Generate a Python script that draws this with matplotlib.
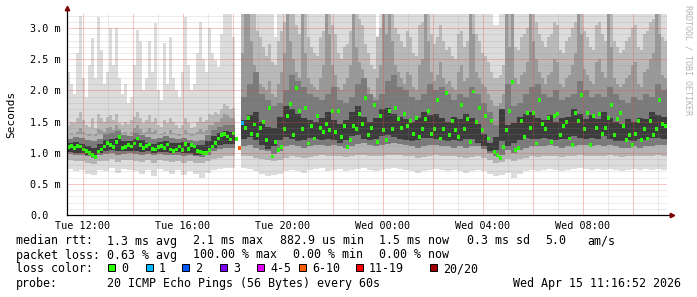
import numpy as np
import matplotlib
matplotlib.use("Agg")
import matplotlib.pyplot as plt
from matplotlib.patches import Rectangle

nan = float("nan")

# median rtt (ms), one value per 7.2 min step starting Tue 11:21
median_ms = [
    1.09, 1.11, 1.08, 1.11, 1.10, 1.05, 1.03, 1.00, 0.96, 0.93,
    1.02, 1.05, 1.10, 1.16, 1.12, 1.09, 1.17, 1.25, 1.07, 1.09,
    1.12, 1.10, 1.15, 1.23, 1.12, 1.08, 1.11, 1.13, 1.06, 1.05,
    1.09, 1.11, 1.07, 1.13, 1.05, 1.03, 1.05, 1.10, 1.04, 1.14,
    1.06, 1.12, 1.10, 1.03, 1.01, 0.99, 1.00, 1.04, 1.10, 1.16,
    1.23, 1.28, 1.30, 1.26, 1.21, 1.31, 1.22, 1.07, 1.48, 1.40,
    1.56, 1.30, 1.45, 1.28, 1.40, 1.49, 1.20, 1.72, 0.94, 1.17,
    1.04, 1.09, 1.38, 1.59, 1.78, 1.28, 2.04, 1.67, 1.38, 1.72,
    1.15, 1.43, 1.23, 1.59, 1.40, 1.33, 1.46, 1.36, 1.67, 1.33,
    1.67, 1.25, 1.43, 1.09, 1.20, 1.43, 1.38, 1.62, 1.46, 1.88,
    1.28, 1.40, 1.77, 1.17, 1.59, 1.36, 1.20, 1.67, 1.38, 1.72,
    1.54, 1.40, 1.62, 1.43, 1.51, 1.30, 1.56, 1.25, 1.38, 1.54,
    1.67, 1.30, 1.38, 1.85, 1.23, 1.38, 1.96, 1.28, 1.51, 1.36,
    1.25, 1.77, 1.38, 1.54, 1.17, 1.98, 1.49, 1.72, 1.36, 1.59,
    1.23, 1.51, 1.01, 0.96, 0.91, 1.09, 1.36, 1.67, 2.14, 1.04,
    1.07, 1.51, 1.25, 1.64, 1.40, 1.64, 1.15, 1.85, 1.46, 1.38,
    1.56, 1.17, 1.59, 1.62, 1.28, 1.43, 1.49, 1.23, 1.12, 1.64,
    1.51, 1.93, 1.38, 1.64, 1.12, 1.59, 1.40, 1.62, 1.30, 1.40,
    1.56, 1.77, 1.28, 1.54, 1.64, 1.43, 1.20, 1.28, 1.12, 1.30,
    1.51, 1.20, 1.38, 1.23, 1.51, 1.28, 1.38, 1.85, 1.46, 1.43,
]
# steps that had packet loss: index -> loss class
median_loss = {57: "6-10", 58: "1"}

# upper smoke (ms), same 7.2 min steps; 3.3 = off the top of the chart
smoke_p80 = [
    1.30, 1.32, 1.30, 1.34, 1.40, 1.33, 1.28, 1.27, 1.30, 1.26,
    1.38, 1.36, 1.33, 1.40, 1.42, 1.36, 1.44, 1.38, 1.32, 1.33,
    1.30, 1.34, 1.40, 1.45, 1.38, 1.32, 1.34, 1.40, 1.33, 1.36,
    1.30, 1.28, 1.34, 1.30, 1.36, 1.32, 1.28, 1.26, 1.30, 1.36,
    1.32, 1.26, 1.28, 1.33, 1.38, 1.34, 1.36, 1.44, 1.45, 1.50,
    1.50, 1.56, 1.62, 1.60, 1.55, 1.56, nan, nan, 2.60, 3.30,
    3.30, 2.80, 2.40, 2.20, 2.10, 2.05, 2.00, 2.15, 1.95, 1.90,
    2.10, 2.30, 2.60, 3.30, 2.80, 2.50, 2.30, 2.20, 3.30, 2.60,
    2.20, 2.10, 2.05, 2.00, 2.20, 2.40, 3.30, 2.90, 2.40, 2.25,
    2.05, 2.00, 2.10, 2.20, 2.40, 3.30, 2.70, 2.45, 2.35, 2.15,
    2.05, 1.95, 1.90, 2.20, 2.40, 3.30, 2.90, 3.30, 2.80, 2.40,
    2.30, 2.20, 2.10, 2.30, 2.25, 2.05, 2.00, 2.40, 2.50, 3.30,
    2.80, 2.30, 2.15, 2.25, 2.45, 2.20, 2.10, 2.15, 2.05, 2.00,
    2.30, 2.40, 2.15, 2.20, 3.30, 2.90, 2.30, 2.20, 2.10, 2.05,
    1.95, 1.85, 1.75, 1.75, 1.80, 1.95, 3.30, 2.70, 3.30, 2.20,
    2.10, 2.25, 2.30, 2.45, 3.30, 2.80, 2.50, 2.30, 2.20, 2.10,
    2.25, 2.30, 2.50, 2.45, 2.10, 2.05, 2.20, 2.25, 2.40, 2.60,
    3.30, 2.90, 2.35, 2.25, 2.15, 2.10, 2.45, 2.50, 2.30, 2.20,
    3.30, 2.70, 2.20, 2.10, 2.05, 2.10, 2.20, 2.25, 2.40, 2.45,
    2.10, 2.05, 2.30, 2.35, 2.50, 2.60, 3.30, 2.90, 2.25, 2.20,
]
smoke_p90 = [
    1.45, 1.50, 1.48, 1.55, 1.65, 1.52, 1.45, 1.42, 1.55, 1.40,
    1.62, 1.55, 1.50, 1.58, 1.60, 1.52, 1.62, 1.48, 1.45, 1.50,
    1.46, 1.52, 1.58, 1.65, 1.55, 1.48, 1.52, 1.60, 1.50, 1.55,
    1.44, 1.42, 1.52, 1.48, 1.56, 1.50, 1.44, 1.40, 1.45, 1.55,
    1.48, 1.40, 1.42, 1.50, 1.58, 1.50, 1.52, 1.62, 1.60, 1.65,
    1.62, 1.70, 1.78, 1.75, 1.70, 1.72, nan, nan, 3.30, 3.30,
    3.30, 3.30, 3.30, 2.95, 2.85, 2.70, 2.55, 2.75, 2.45, 2.40,
    2.80, 2.95, 3.10, 3.30, 3.30, 3.30, 3.05, 2.90, 3.30, 3.30,
    2.85, 2.70, 2.60, 2.55, 2.85, 2.95, 3.30, 3.30, 3.05, 2.90,
    2.60, 2.50, 2.70, 2.75, 2.95, 3.30, 3.30, 3.15, 3.05, 2.75,
    2.60, 2.40, 2.35, 2.85, 3.00, 3.30, 3.30, 3.30, 3.30, 3.00,
    2.90, 2.80, 2.70, 2.95, 2.85, 2.60, 2.55, 3.05, 3.10, 3.30,
    3.30, 2.90, 2.75, 2.85, 3.05, 2.80, 2.65, 2.70, 2.55, 2.50,
    2.90, 2.95, 2.70, 2.80, 3.30, 3.30, 2.90, 2.80, 2.60, 2.55,
    2.45, 2.30, 2.20, 2.20, 2.25, 2.40, 3.30, 3.30, 3.30, 2.70,
    2.65, 2.85, 2.90, 3.00, 3.30, 3.30, 3.10, 2.90, 2.80, 2.70,
    2.85, 2.90, 3.10, 3.05, 2.65, 2.60, 2.80, 2.85, 3.00, 3.10,
    3.30, 3.30, 2.95, 2.85, 2.70, 2.65, 3.05, 3.10, 2.90, 2.80,
    3.30, 3.30, 2.80, 2.70, 2.60, 2.65, 2.80, 2.85, 3.00, 3.05,
    2.70, 2.65, 2.90, 2.95, 3.10, 3.15, 3.30, 3.30, 2.85, 2.80,
]
smoke_hi = [
    2.30, 2.10, 1.95, 2.60, 3.20, 2.20, 1.90, 2.40, 2.84, 2.20,
    3.18, 2.65, 2.10, 2.30, 3.00, 2.40, 3.00, 2.20, 1.95, 2.10,
    1.80, 1.90, 2.40, 2.97, 2.80, 2.00, 2.20, 2.80, 2.30, 3.08,
    2.00, 1.85, 2.76, 2.10, 2.86, 2.20, 2.00, 1.90, 2.30, 3.18,
    2.40, 2.00, 2.10, 2.60, 3.10, 2.50, 2.30, 3.00, 2.60, 2.49,
    2.38, 2.90, 3.30, 3.30, 3.30, 2.86, nan, nan, 3.30, 3.30,
    3.30, 3.30, 3.30, 3.30, 3.30, 3.30, 3.30, 3.30, 3.30, 2.86,
    3.30, 3.30, 3.30, 3.30, 3.30, 3.30, 3.30, 3.30, 3.30, 3.30,
    3.30, 3.30, 3.30, 3.30, 3.30, 3.30, 3.30, 3.30, 3.30, 3.30,
    3.30, 3.30, 3.30, 3.30, 3.30, 3.30, 3.30, 3.30, 3.30, 3.30,
    3.30, 3.30, 3.30, 2.88, 3.30, 3.30, 3.30, 3.30, 3.30, 3.30,
    3.30, 3.30, 3.30, 3.30, 3.30, 3.30, 3.30, 3.30, 3.30, 3.30,
    3.30, 3.30, 3.30, 3.30, 3.30, 3.30, 3.30, 3.30, 3.30, 3.30,
    3.30, 3.30, 3.30, 3.30, 3.30, 3.30, 3.30, 3.30, 3.30, 3.30,
    3.30, 3.30, 3.05, 3.05, 3.30, 3.30, 3.30, 3.30, 3.30, 3.30,
    3.30, 3.30, 3.30, 3.30, 3.30, 3.30, 3.30, 3.30, 3.30, 3.30,
    3.30, 3.30, 3.30, 3.30, 3.30, 3.30, 3.30, 3.30, 3.30, 3.30,
    3.30, 3.30, 3.30, 3.30, 3.30, 3.30, 3.30, 3.30, 3.30, 3.30,
    3.30, 3.30, 3.30, 3.30, 3.30, 3.30, 3.30, 3.30, 3.30, 3.30,
    3.30, 3.30, 3.30, 3.30, 3.30, 3.30, 3.30, 3.30, 3.30, 3.30,
]

# lower / inner smoke (ms), one value per 14.4 min step; nan = no data
smoke_lo = [
    0.74, 0.70, 0.72, 0.66, 0.64, 0.72, 0.70, 0.76, 0.68, 0.74,
    0.72, 0.70, 0.66, 0.73, 0.62, 0.74, 0.70, 0.66, 0.72, 0.64,
    0.70, 0.66, 0.60, 0.68, 0.72, 0.74, 0.76, 0.75, nan, 0.76,
    0.74, 0.70, 0.66, 0.62, 0.64, 0.66, 0.70, 0.72, 0.70, 0.68,
    0.72, 0.74, 0.76, 0.70, 0.72, 0.74, 0.70, 0.72, 0.74, 0.76,
    0.72, 0.70, 0.72, 0.74, 0.76, 0.74, 0.72, 0.70, 0.68, 0.70,
    0.72, 0.74, 0.72, 0.70, 0.72, 0.70, 0.68, 0.70, 0.72, 0.70,
    0.66, 0.62, 0.64, 0.68, 0.60, 0.66, 0.70, 0.72, 0.70, 0.72,
    0.74, 0.72, 0.70, 0.72, 0.74, 0.76, 0.74, 0.72, 0.74, 0.72,
    0.74, 0.72, 0.70, 0.72, 0.74, 0.72, 0.74, 0.72, 0.74, 0.72,
]
smoke_p10 = [
    0.88, 0.86, 0.87, 0.84, 0.82, 0.86, 0.87, 0.90, 0.85, 0.88,
    0.88, 0.87, 0.85, 0.88, 0.84, 0.88, 0.86, 0.85, 0.87, 0.84,
    0.86, 0.84, 0.83, 0.86, 0.90, 0.92, 0.94, 0.94, nan, 0.95,
    0.94, 0.92, 0.90, 0.88, 0.86, 0.88, 0.92, 0.94, 0.93, 0.92,
    0.93, 0.95, 0.96, 0.94, 0.95, 0.95, 0.93, 0.94, 0.96, 0.97,
    0.95, 0.94, 0.95, 0.96, 0.97, 0.96, 0.95, 0.94, 0.92, 0.93,
    0.95, 0.96, 0.95, 0.94, 0.94, 0.93, 0.92, 0.93, 0.94, 0.92,
    0.88, 0.84, 0.85, 0.90, 0.86, 0.90, 0.92, 0.94, 0.93, 0.94,
    0.95, 0.94, 0.93, 0.94, 0.95, 0.96, 0.95, 0.94, 0.95, 0.94,
    0.96, 0.95, 0.93, 0.94, 0.95, 0.94, 0.95, 0.94, 0.96, 0.95,
]
smoke_p25 = [
    0.98, 0.97, 0.96, 0.94, 0.92, 0.96, 0.98, 1.00, 0.97, 0.98,
    0.99, 0.98, 0.97, 0.98, 0.96, 0.98, 0.97, 0.96, 0.97, 0.95,
    0.96, 0.94, 0.93, 0.97, 1.02, 1.06, 1.08, 1.08, nan, 1.10,
    1.12, 1.08, 1.05, 1.02, 0.98, 1.02, 1.10, 1.12, 1.10, 1.08,
    1.10, 1.12, 1.12, 1.10, 1.12, 1.10, 1.08, 1.10, 1.14, 1.15,
    1.12, 1.10, 1.12, 1.14, 1.16, 1.14, 1.12, 1.10, 1.08, 1.10,
    1.12, 1.12, 1.10, 1.10, 1.08, 1.10, 1.08, 1.10, 1.10, 1.06,
    1.00, 0.94, 0.96, 1.05, 1.00, 1.05, 1.08, 1.10, 1.10, 1.10,
    1.12, 1.10, 1.08, 1.10, 1.10, 1.12, 1.12, 1.10, 1.12, 1.10,
    1.12, 1.10, 1.08, 1.08, 1.10, 1.08, 1.10, 1.10, 1.12, 1.12,
]
smoke_p40 = [
    1.01, 1.00, 0.99, 0.97, 0.95, 0.99, 1.02, 1.04, 1.02, 1.02,
    1.03, 1.03, 1.01, 1.02, 1.00, 1.01, 1.01, 1.00, 1.01, 0.99,
    0.99, 0.97, 0.96, 1.01, 1.07, 1.12, 1.14, 1.14, nan, 1.22,
    1.25, 1.20, 1.12, 1.06, 1.10, 1.20, 1.25, 1.22, 1.18, 1.20,
    1.24, 1.22, 1.20, 1.22, 1.20, 1.16, 1.20, 1.26, 1.28, 1.22,
    1.20, 1.22, 1.26, 1.28, 1.25, 1.22, 1.20, 1.18, 1.20, 1.24,
    1.24, 1.22, 1.20, 1.18, 1.20, 1.18, 1.22, 1.22, 1.16, 1.10,
    1.02, 1.04, 1.18, 1.10, 1.15, 1.20, 1.24, 1.22, 1.22, 1.24,
    1.22, 1.20, 1.22, 1.22, 1.26, 1.24, 1.22, 1.24, 1.22, 1.26,
    1.22, 1.18, 1.18, 1.20, 1.18, 1.22, 1.20, 1.24, 1.24, 1.22,
]
smoke_p60 = [
    1.16, 1.17, 1.14, 1.10, 1.08, 1.14, 1.20, 1.22, 1.24, 1.18,
    1.18, 1.22, 1.20, 1.16, 1.14, 1.17, 1.18, 1.15, 1.16, 1.17,
    1.15, 1.12, 1.12, 1.18, 1.26, 1.32, 1.35, 1.34, nan, 1.52,
    1.60, 1.65, 1.50, 1.42, 1.40, 1.58, 1.75, 1.70, 1.62, 1.55,
    1.52, 1.50, 1.56, 1.65, 1.52, 1.46, 1.52, 1.66, 1.75, 1.58,
    1.50, 1.56, 1.70, 1.72, 1.62, 1.58, 1.54, 1.50, 1.56, 1.66,
    1.60, 1.62, 1.56, 1.50, 1.58, 1.54, 1.62, 1.56, 1.46, 1.30,
    1.15, 1.25, 1.70, 1.45, 1.48, 1.58, 1.62, 1.66, 1.56, 1.52,
    1.60, 1.50, 1.55, 1.58, 1.70, 1.62, 1.54, 1.60, 1.54, 1.65,
    1.56, 1.50, 1.46, 1.54, 1.50, 1.56, 1.54, 1.66, 1.60, 1.58,
]
smoke_p75 = [
    1.22, 1.25, 1.24, 1.20, 1.18, 1.22, 1.30, 1.32, 1.35, 1.28,
    1.26, 1.32, 1.28, 1.25, 1.22, 1.24, 1.26, 1.23, 1.22, 1.24,
    1.20, 1.18, 1.20, 1.28, 1.36, 1.42, 1.45, 1.44, nan, 1.90,
    2.10, 2.30, 1.95, 1.85, 1.75, 1.80, 2.00, 2.25, 2.15, 2.05,
    1.95, 1.90, 1.85, 1.95, 2.05, 1.85, 1.80, 1.90, 2.10, 2.20,
    1.95, 1.85, 1.95, 2.15, 2.25, 2.05, 2.00, 1.90, 1.85, 1.95,
    2.10, 2.00, 2.05, 1.95, 1.85, 1.95, 1.90, 2.05, 1.95, 1.80,
    1.65, 1.45, 1.60, 2.10, 1.75, 1.80, 1.95, 2.05, 2.10, 1.95,
    1.90, 2.00, 1.85, 1.90, 1.95, 2.15, 2.00, 1.90, 1.95, 1.90,
    2.05, 1.95, 1.85, 1.80, 1.90, 1.85, 1.95, 1.90, 2.10, 2.00,
]

x_ticks = [12, 16, 20, 24, 28, 32]
x_tick_labels = ["Tue 12:00", "Tue 16:00", "Tue 20:00",
                 "Wed 00:00", "Wed 04:00", "Wed 08:00"]
y_ticks = [0.0, 0.5, 1.0, 1.5, 2.0, 2.5, 3.0]
y_tick_labels = ["0.0", "0.5 m", "1.0 m", "1.5 m", "2.0 m", "2.5 m", "3.0 m"]

loss_names = ["0", "1", "2", "3", "4-5", "6-10", "11-19", "20/20"]
loss_colors = ["#26ff00", "#00b8ff", "#0059ff", "#7e00ff",
               "#e000ff", "#ff5e00", "#ff0000", "#a10000"]

legend_rows = [
    [(16, "median rtt:"), (107, "1.3 ms avg"), (193, "2.1 ms max"),
     (280, "882.9 us min"), (379, "1.5 ms now"), (467, "0.3 ms sd"),
     (545, "5.0"), (587, "am/s")],
    [(16, "packet loss:"), (107, "0.63 % avg"), (193, "100.00 % max"),
     (293, "0.00 % min"), (379, "0.00 % now")],
    [(16, "loss color:")],
    [(16, "probe:"), (107, "20 ICMP Echo Pings (56 Bytes) every 60s")],
]
stamp = "Wed Apr 15 11:16:52 2026"

W, H = 697, 297
t0 = 11.36          # hours since Tue 00:00 at the left edge
span = 24.0
split = 1.3         # upper smoke is stored at finer resolution
mono = "DejaVu Sans Mono"

fig = plt.figure(figsize=(W / 100, H / 100), dpi=100, facecolor="white")
ax = fig.add_axes([67 / W, (H - 215) / H, 600 / W, 201 / H])
ax.set_facecolor("white")


def smoke(t, w, a, b, color):
    a = np.asarray(a, float)
    b = np.asarray(b, float)
    ok = ~(np.isnan(a) | np.isnan(b))
    ax.bar(t[ok], (b - a)[ok], bottom=a[ok], width=w, color=color,
           linewidth=0, antialiased=False, zorder=1)


n_c = len(smoke_lo)
dc = span / n_c
t_c = t0 + dc * (np.arange(n_c) + 0.5)
n_f = len(smoke_hi)
df = span / n_f
t_f = t0 + df * (np.arange(n_f) + 0.5)
split_c = np.where(np.isnan(np.array(smoke_lo)), nan, split)
split_f = np.where(np.isnan(np.array(smoke_hi)), nan, split)

smoke(t_c, dc, smoke_lo, split_c, "#dcdcdc")
smoke(t_f, df, split_f, smoke_hi, "#dcdcdc")
smoke(t_c, dc, smoke_p10, split_c, "#b4b4b4")
smoke(t_f, df, split_f, smoke_p90, "#b9b9b9")
smoke(t_f, df, split_f, smoke_p80, "#999999")
smoke(t_c, dc, smoke_p25, smoke_p75, "#7a7a7a")
smoke(t_c, dc, smoke_p40, smoke_p60, "#3c3c3c")

# median markers coloured by loss
n_m = len(median_ms)
dm = span / n_m
t_m = t0 + dm * (np.arange(n_m) + 0.5)
med = np.array(median_ms)
cols = [loss_colors[loss_names.index(median_loss.get(i, "0"))] for i in range(n_m)]
ax.scatter(t_m, med, marker="s", s=7, c=cols, linewidths=0, zorder=3)

# grid on top, rrdtool style
for v in np.arange(0.1, 3.25, 0.1):
    if abs(v * 2 - round(v * 2)) > 1e-6:
        ax.axhline(v, color="#909090", alpha=0.35, lw=0.72, ls=(0, (1, 1)), zorder=4)
for h in range(12, 36):
    if h % 2:
        ax.axvline(h, color="#909090", alpha=0.35, lw=0.72, ls=(0, (1, 1)), zorder=4)
for v in y_ticks[1:]:
    ax.axhline(v, color="#e04848", alpha=0.6, lw=0.72, ls=(0, (1, 1)), zorder=4)
for h in range(12, 36, 2):
    ax.axvline(h, color="#e04848", alpha=0.6, lw=0.72, ls=(0, (1, 1)), zorder=4)

ax.set_xlim(t0, t0 + span)
ax.set_ylim(0, 3.226)
for s in ax.spines.values():
    s.set_visible(False)

ax.set_xticks(x_ticks)
ax.set_xticklabels(x_tick_labels, fontsize=7.3, family=mono)
ax.set_yticks(y_ticks)
ax.set_yticklabels(y_tick_labels, fontsize=7.3, family=mono)
ax.tick_params(axis="both", length=0)
ax.tick_params(axis="x", pad=4)
ax.tick_params(axis="y", pad=26.6)
for lab in ax.get_yticklabels():
    lab.set_horizontalalignment("left")

# axes with dark red arrows
ax.plot([0, 0], [0, 1.025], transform=ax.transAxes, color="black", lw=0.9,
        clip_on=False, zorder=5)
ax.plot([0, 1.008], [0, 0], transform=ax.transAxes, color="black", lw=0.9,
        clip_on=False, zorder=5)
ax.plot([0], [1.028], transform=ax.transAxes, marker="^", ms=3.2,
        color="#7f0000", clip_on=False, zorder=6)
ax.plot([1.009], [0], transform=ax.transAxes, marker=">", ms=3.2,
        color="#7f0000", clip_on=False, zorder=6)

fig.text(11 / W, 1 - 114 / H, "Seconds", rotation=90, ha="center", va="center",
         fontsize=8, family=mono)
fig.text(688 / W, 1 - 5 / H, "RRDTOOL / TOBI OETIKER", rotation=270,
         ha="center", va="top", fontsize=6, family=mono, color="#b4b4b4")

row_y = [241, 255, 269, 283]
for y, row in zip(row_y, legend_rows):
    for x, txt in row:
        fig.text(x / W, 1 - y / H, txt, ha="left", va="center",
                 fontsize=8.4, family=mono)
fig.text(681 / W, 1 - row_y[3] / H, stamp, ha="right", va="center",
         fontsize=8.4, family=mono)

box_x = [108, 146, 182, 220, 257, 299, 356, 430]
for bx, name, c in zip(box_x, loss_names, loss_colors):
    fig.patches.append(Rectangle((bx / W, 1 - 271 / H), 7 / W, 7 / H,
                                 transform=fig.transFigure, facecolor=c,
                                 edgecolor="black", lw=0.7))
    fig.text((bx + 13) / W, 1 - row_y[2] / H, name, ha="left", va="center",
             fontsize=8.4, family=mono)

fig.savefig("out.png", dpi=100, facecolor="white")
